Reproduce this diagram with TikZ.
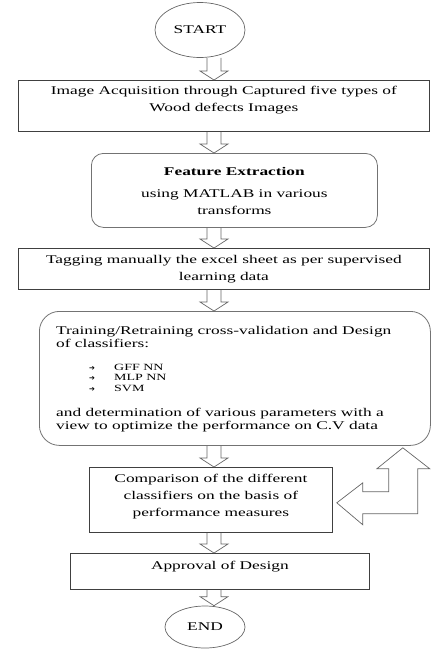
\documentclass[tikz,border=0pt]{standalone}
\usepackage{fontspec}
\setmainfont{Liberation Serif}[FakeStretch=1.47]
\newfontfamily\symfont{DejaVu Sans}
\usetikzlibrary{positioning,calc,shapes.geometric}
\tikzset{
  procbox/.style={draw=black!75, line width=0.8pt, inner sep=0pt},
  roundbox/.style={draw=black!55, line width=0.8pt, rounded corners=12pt, inner sep=0pt},
  termnode/.style={draw=black!60, ellipse, line width=0.7pt, inner sep=0pt, font=\fontsize{11.8}{14}\selectfont},
  boxtext/.style={font=\fontsize{11.8}{17}\selectfont, align=center, inner sep=0pt},
  listtext/.style={font=\fontsize{9.5}{10.5}\selectfont, align=left, inner sep=0pt},
  hollowarrow/.style={draw=black!60, line width=0.7pt, line join=miter}
}
% block arrow down the spine, from one node to the next
\newcommand\blockdown[2]{%
  \draw[hollowarrow] ($(#1.south -| spine)+(-7,0)$) -- ($(#2.north -| spine)+(-7,-9)$)
    -- ($(#2.north -| spine)+(-14,-9)$) -- (#2.north -| spine)
    -- ($(#2.north -| spine)+(14,-9)$) -- ($(#2.north -| spine)+(7,-9)$)
    -- ($(#1.south -| spine)+(7,0)$);}
\newcommand\bul{\makebox[25pt][l]{\symfont\fontsize{7}{7}\selectfont ➔}}

\begin{document}
\begin{tikzpicture}[x=1pt, y=-1pt]
  \useasboundingbox (0,0) rectangle (433,649);
  \coordinate (spine) at (214,0);

  \node[termnode, minimum width=90, minimum height=55] (start) at (200,30) {START};

  \node[procbox, minimum width=411, minimum height=51, anchor=north west] (acq) at (18,80) {};
  \node[boxtext, below=6pt of acq.north] (acqtxt) {Image Acquisition through Captured five types of\\Wood defects Images};

  \node[roundbox, minimum width=286, minimum height=74, anchor=north west] (feat) at (91,153) {};
  \node[boxtext, below=14pt of feat.north] (feattxt) {\textbf{Feature Extraction}\\[5pt]using MATLAB in various\\transforms};

  \node[procbox, minimum width=411, minimum height=41, anchor=north west] (tag) at (18,248) {};
  \node[boxtext, below=7pt of tag.north] (tagtxt) {Tagging manually the excel sheet as per supervised\\learning data};

  \node[roundbox, rounded corners=20pt, minimum width=391, minimum height=134, anchor=north west] (train) at (39,311) {};
  \node[boxtext, font=\fontsize{11.8}{13}\selectfont, align=left, anchor=north west] (trainhead)
    at ($(train.north west)+(17,15)$) {Training/Retraining cross-validation and Design\\of classifiers:};
  \node[listtext, anchor=north west] (trainlist) at ($(train.north west)+(50,53)$)
    {\bul GFF NN\\\bul MLP NN\\\bul SVM};
  \node[boxtext, font=\fontsize{11.8}{13}\selectfont, align=left, anchor=north west] (traintail)
    at ($(train.north west)+(17,97)$) {and determination of various parameters with a\\view to optimize the performance on C.V data};

  \node[procbox, minimum width=243, minimum height=65, anchor=north west] (comp) at (89,467) {};
  \node[boxtext, below=7pt of comp.north] (comptxt) {Comparison of the different\\classifiers on the basis of\\performance measures};

  \node[procbox, minimum width=299, minimum height=36, anchor=north west] (appr) at (70,553) {};
  \node[boxtext, below=8pt of appr.north] (apprtxt) {Approval of Design};

  \node[termnode, minimum width=80, minimum height=42] (end) at (205,627) {END};

  \blockdown{start}{acq}
  \blockdown{acq}{feat}
  \blockdown{feat}{tag}
  \blockdown{tag}{train}
  \blockdown{train}{comp}
  \blockdown{comp}{appr}
  \blockdown{appr}{end}

  % loop back from comparison to training
  \coordinate (fbtip) at ($(train.south east)+(-28,2)$);
  \draw[hollowarrow] (fbtip) -- ++(27,21) -- ++(-12,0) -- ++(0,45) -- ++(-55,0) -- ++(0,11)
    -- ++(-26,-22) -- ++(26,-20) -- ++(0,9) -- ++(26,0) -- ++(0,-23) -- ++(-12,0) -- cycle;
\end{tikzpicture}
\end{document}
